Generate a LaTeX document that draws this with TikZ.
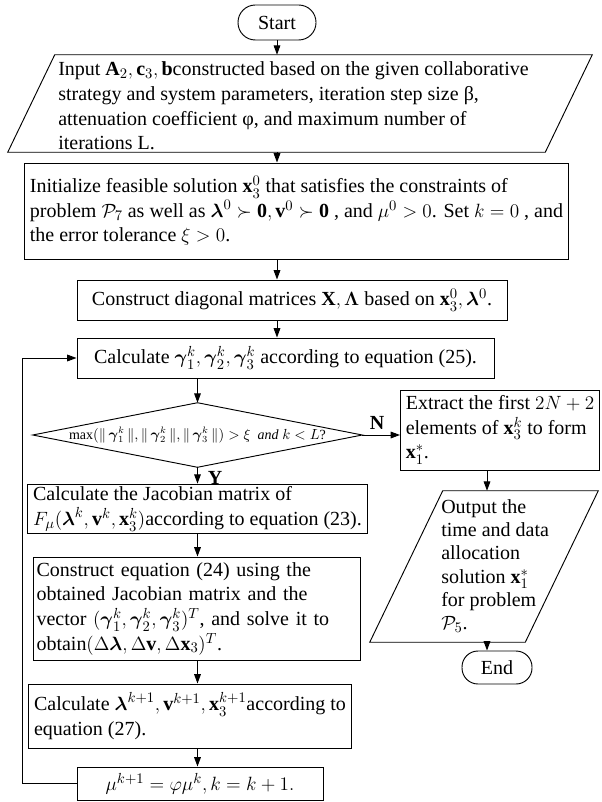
\documentclass[tikz,border=0pt]{standalone}
\usepackage{amsmath,amssymb}
\usepackage{fontspec}
\setmainfont{Liberation Serif}
\usetikzlibrary{arrows.meta}
\begin{document}
\begin{tikzpicture}[x=0.75pt,y=-0.75pt,
  font=\fontsize{15}{18.5}\selectfont,
  box/.style={draw, line width=0.7pt, inner xsep=4pt, inner ysep=2pt, align=left},
  shapeonly/.style={inner sep=0pt},
  pline/.style={line width=0.7pt},
  arr/.style={-{Triangle[length=7pt,width=5pt]}, line width=0.7pt},
  lbl/.style={inner sep=0pt, font=\fontsize{15}{18}\selectfont\bfseries}]
\useasboundingbox (0,0) rectangle (601,802);

% Start
\node[box, align=center, rounded corners=13pt, minimum width=58.5pt, minimum height=26.25pt] (start) at (277,22.5) {Start};

% Input parallelogram
\node[shapeonly, minimum width=438pt, minimum height=72.75pt] (inp) at (300,103.5) {};
\draw[pline] ([xshift=35.25pt]inp.north west) -- (inp.north east) -- ([xshift=-35.25pt]inp.south east) -- (inp.south west) -- cycle;
\node[anchor=west, inner sep=0pt, align=left] (inptext) at (58,106)
  {Input $\mathbf{A}_2,\mathbf{c}_3,\mathbf{b}$constructed based on the given collaborative\\
   strategy and system parameters, iteration step size β,\\
   attenuation coefficient φ, and maximum number of\\
   iterations L.};

% Init
\node[box, minimum width=407.25pt, minimum height=72pt] (init) at (296.5,211)
  {Initialize feasible solution $\mathbf{x}_3^0$ that satisfies the constraints of\\
   problem $\mathcal{P}_7$ as well as $\boldsymbol{\lambda}^0\succ\mathbf{0},\mathbf{v}^0\succ\mathbf{0}$ , and $\mu^0>0$. Set $k=0$ , and\\
   the error tolerance $\xi>0$.};

% Construct diagonal
\node[box, minimum width=322.5pt, minimum height=30pt] (cons) at (292,300)
  {Construct diagonal matrices $\mathbf{X},\boldsymbol{\Lambda}$ based on $\mathbf{x}_3^0,\boldsymbol{\lambda}^0$.};

% Calculate gamma
\node[box, minimum width=312.75pt, minimum height=30pt] (calc) at (285.5,358)
  {Calculate $\boldsymbol{\gamma}_1^k,\boldsymbol{\gamma}_2^k,\boldsymbol{\gamma}_3^k$ according to equation (25).};

% Diamond
\node[shapeonly, minimum width=246.75pt, minimum height=48pt, font=\fontsize{10.5}{13}\selectfont] (dia) at (197.5,435)
  {$\max(\|\,\boldsymbol{\gamma}_1^k\,\|,\|\,\boldsymbol{\gamma}_2^k\,\|,\|\,\boldsymbol{\gamma}_3^k\,\|)>\xi$\ \ \textit{and} $k<L$?};
\draw[pline] (dia.west) -- (dia.north) -- (dia.east) -- (dia.south) -- cycle;

% Extract
\node[box, minimum width=147pt, minimum height=60pt] (ext) at (500,430)
  {Extract the first $2N+2$\\elements of $\mathbf{x}_3^k$ to form\\$\mathbf{x}_1^*$.};

% Jacobian
\node[box, minimum width=246.75pt, minimum height=36pt] (jac) at (197.5,509)
  {Calculate the Jacobian matrix of\\
   $F_\mu(\boldsymbol{\lambda}^k,\mathbf{v}^k,\mathbf{x}_3^k)$according to equation (23).};

% Construct equation
\node[box, inner xsep=2pt, text width=240pt, minimum width=245.25pt, minimum height=77.25pt] (ceq) at (196.5,608.5)
  {Construct equation (24) using the\\
   obtained Jacobian matrix and the\\
   vector $(\boldsymbol{\gamma}_1^k,\boldsymbol{\gamma}_2^k,\boldsymbol{\gamma}_3^k)^T$, and solve it to\\
   obtain$(\Delta\boldsymbol{\lambda},\Delta\mathbf{v},\Delta\mathbf{x}_3)^T$.};

% Calculate lambda
\node[box, minimum width=235.5pt, minimum height=48pt] (lam) at (190,716)
  {Calculate $\boldsymbol{\lambda}^{k+1},\mathbf{v}^{k+1},\mathbf{x}_3^{k+1}$according to\\
   equation (27).};

% mu update
\node[box, align=center, minimum width=184.5pt, minimum height=24.75pt, font=\fontsize{15.5}{18}\selectfont] (mu) at (200,783.5)
  {$\mu^{k+1}=\varphi\mu^k,k=k+1.$};

% Output parallelogram
\node[shapeonly, minimum width=171pt, minimum height=113.25pt] (out) at (484,566.5) {};
\draw[pline] ([xshift=54.75pt]out.north west) -- (out.north east) -- ([xshift=-54.75pt]out.south east) -- (out.south west) -- cycle;
\node[anchor=west, inner sep=0pt, align=left, font=\fontsize{15}{17.4}\selectfont] (outtext) at (441,566)
  {Output the\\time and data\\allocation\\solution $\mathbf{x}_1^*$\\for problem\\$\mathcal{P}_5$.};

% End
\node[box, align=center, rounded corners=12pt, minimum width=52.5pt, minimum height=24.75pt] (end) at (497,667.5) {End};

% helper coordinates
\coordinate (loopx) at (22,0);
\coordinate (rc) at (487,0);

% connectors
\draw[arr] (start.south) -- (start.south |- inp.north);
\draw[arr] (start.south |- inp.south) -- (start.south |- init.north);
\draw[arr] (start.south |- init.south) -- (start.south |- cons.north);
\draw[arr] (start.south |- cons.south) -- (start.south |- calc.north);
\draw[arr] (dia.north |- calc.south) -- (dia.north);
\draw[arr] (dia.south) -- (jac.north);
\draw[arr] (jac.south) -- (jac.south |- ceq.north);
\draw[arr] (jac.south |- ceq.south) -- (jac.south |- lam.north);
\draw[arr] (jac.south |- lam.south) -- (jac.south |- mu.north);
\draw[arr] (mu.west) -- (mu.west -| loopx) -- (calc.west -| loopx) -- (calc.west);
\draw[arr] (dia.east) -- (dia.east -| ext.west);
\draw[arr] (ext.south -| rc) -- (out.north -| rc);
\draw[arr] (out.south -| rc) -- (end.north -| rc);

% labels
\node[lbl] (nlab) at (377,423) {N};
\node[lbl] (ylab) at (215,478) {Y};
\end{tikzpicture}
\end{document}
